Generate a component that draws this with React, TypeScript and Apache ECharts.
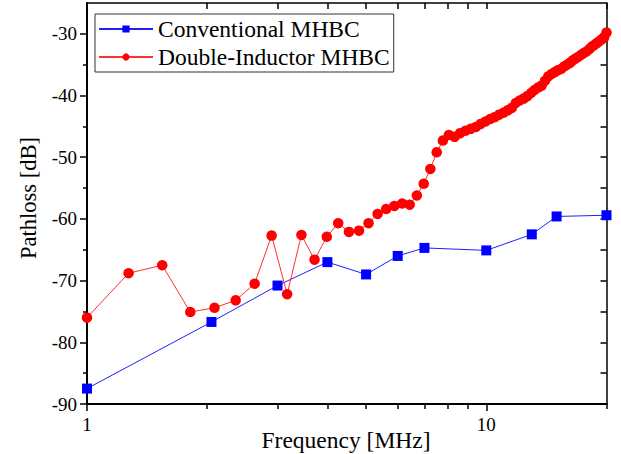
import React, { useEffect, useRef } from "react";
import * as echarts from "echarts";

const freqConv = [1, 2.05, 3, 4, 5, 6, 7, 10, 13, 15, 20];
const lossConv = [-87.5, -76.7, -70.8, -67.0, -69.0, -66.0, -64.7, -65.1, -62.5, -59.6, -59.4];

const freqDI = [
  1.0, 1.271, 1.543, 1.814, 2.086, 2.357, 2.629, 2.9, 3.171, 3.443,
  3.714, 3.986, 4.257, 4.529, 4.8, 5.071, 5.343, 5.614, 5.886, 6.157,
  6.429, 6.7, 6.971, 7.243, 7.514, 7.786, 8.057, 8.329, 8.6, 8.871,
  9.143, 9.414, 9.686, 9.957, 10.229, 10.5, 10.771, 11.043, 11.314, 11.586,
  11.857, 12.129, 12.4, 12.671, 12.943, 13.214, 13.486, 13.757, 14.029, 14.3,
  14.571, 14.843, 15.114, 15.386, 15.657, 15.929, 16.2, 16.471, 16.743, 17.014,
  17.286, 17.557, 17.829, 18.1, 18.371, 18.643, 18.914, 19.186, 19.457, 19.729,
  20.0,
];
const lossDI = [
  -76.0, -68.8, -67.5, -75.1, -74.4, -73.2, -70.5, -62.7, -72.2, -62.6,
  -66.6, -62.9, -60.7, -62.1, -61.9, -60.7, -59.2, -58.4, -57.9, -57.5,
  -57.7, -56.2, -54.3, -51.9, -49.2, -47.3, -46.4, -46.7, -46.1, -45.7,
  -45.4, -45.1, -44.6, -44.2, -43.8, -43.5, -43.1, -42.8, -42.4, -42.0,
  -41.2, -40.8, -40.5, -40.1, -39.6, -39.1, -38.7, -38.4, -37.6, -36.9,
  -36.5, -36.2, -35.9, -35.7, -35.3, -35.0, -34.7, -34.3, -34.0, -33.7,
  -33.4, -33.1, -32.85, -32.5, -32.1, -31.8, -31.5, -31.2, -30.9, -30.6,
  -29.8,
];

const yMajorTicks = [-90, -80, -70, -60, -50, -40, -30];
const yMinorTicks = [-85, -75, -65, -55, -45, -35];
const yRightTicks = [-85, -80, -75, -70, -65, -60, -55, -50, -45, -40, -35, -30];
const xMajorTicks = [1, 10];
const xMinorTicks = [2, 3, 4, 5, 6, 7, 8, 9, 20];
const xTopTicks = [2, 3, 4, 5, 6, 7, 8, 9, 10, 20];

const seriesNames = ["Conventional MHBC", "Double-Inductor MHBC"];
const xTitle = "Frequency [MHz]";
const yTitle = "Pathloss [dB]";

const FONT = "Liberation Serif";

export default function App() {
  const ref = useRef<HTMLDivElement>(null);
  useEffect(() => {
    if (!ref.current) return;
    const chart = echarts.init(ref.current, null, { renderer: "svg" });
    const gridRect = { left: 87, right: 14.5, top: 3, bottom: 50 };
    const yRange = { min: -90, max: -25 };
    const xRange = { min: 1, max: 20 };
    const noLabel = { show: false };
    const serifRich = {
      s: { color: "#000", fontFamily: FONT, fontSize: 19, fontWeight: "normal" },
    };
    chart.setOption({
      animation: false,
      backgroundColor: "#ffffff",
      textStyle: { fontFamily: FONT },
      grid: [
        { ...gridRect, show: false },
        { ...gridRect, show: false },
      ],
      xAxis: [
        {
          type: "log",
          logBase: 10,
          gridIndex: 0,
          position: "bottom",
          ...xRange,
          axisLine: { show: true, lineStyle: { color: "#000", width: 2 } },
          axisTick: { show: true, customValues: xMajorTicks, length: 7, lineStyle: { color: "#000", width: 1.5 } },
          axisLabel: {
            show: true,
            margin: 11,
            showMaxLabel: false,
            color: "#000",
            fontFamily: FONT,
            fontSize: 19,
            rich: serifRich,
            formatter: (v: number) => (xMajorTicks.indexOf(v) >= 0 ? "{s|" + v + "}" : ""),
          },
          splitLine: { show: false },
          minorTick: { show: false },
        },
        {
          type: "log",
          logBase: 10,
          gridIndex: 0,
          position: "top",
          ...xRange,
          axisLine: { show: true, lineStyle: { color: "#000", width: 1.5 } },
          axisTick: { show: true, inside: true, customValues: xTopTicks, length: 6, lineStyle: { color: "#000", width: 1.5 } },
          axisLabel: noLabel,
          splitLine: { show: false },
        },
        {
          type: "log",
          logBase: 10,
          gridIndex: 1,
          position: "bottom",
          ...xRange,
          axisLine: { show: false },
          axisTick: { show: true, customValues: xMinorTicks, length: 5, lineStyle: { color: "#000", width: 1.5 } },
          axisLabel: noLabel,
          splitLine: { show: false },
        },
      ],
      yAxis: [
        {
          type: "value",
          gridIndex: 0,
          position: "left",
          ...yRange,
          interval: 10,
          axisLine: { show: true, lineStyle: { color: "#000", width: 2 } },
          axisTick: { show: true, customValues: yMajorTicks, length: 7, lineStyle: { color: "#000", width: 1.5 } },
          axisLabel: {
            show: true,
            margin: 10,
            showMaxLabel: false,
            color: "#000",
            fontFamily: FONT,
            fontSize: 19,
            rich: serifRich,
            formatter: (v: number) => (yMajorTicks.indexOf(v) >= 0 ? "{s|" + v + "}" : ""),
          },
          splitLine: { show: false },
        },
        {
          type: "value",
          gridIndex: 0,
          position: "right",
          ...yRange,
          interval: 5,
          axisLine: { show: true, lineStyle: { color: "#000", width: 1.5 } },
          axisTick: { show: true, inside: true, customValues: yRightTicks, length: 6, lineStyle: { color: "#000", width: 1.5 } },
          axisLabel: noLabel,
          splitLine: { show: false },
        },
        {
          type: "value",
          gridIndex: 1,
          position: "left",
          ...yRange,
          interval: 5,
          axisLine: { show: false },
          axisTick: { show: true, customValues: yMinorTicks, length: 4, lineStyle: { color: "#000", width: 1.5 } },
          axisLabel: noLabel,
          splitLine: { show: false },
        },
      ],
      legend: {
        orient: "vertical",
        left: 95,
        top: 14,
        itemWidth: 54,
        itemHeight: 9,
        itemGap: 4,
        padding: [3, 4, 3, 3],
        borderColor: "#333",
        borderWidth: 1,
        borderRadius: 0,
        backgroundColor: "#fff",
        selectedMode: false,
        textStyle: { fontFamily: FONT, fontSize: 23.5, color: "#000", lineHeight: 24 },
        data: seriesNames,
      },
      series: [
        {
          name: seriesNames[0],
          type: "line",
          xAxisIndex: 0,
          yAxisIndex: 0,
          data: freqConv.map((f, i) => [f, lossConv[i]]),
          symbol: "rect",
          symbolSize: 10,
          showAllSymbol: true,
          clip: false,
          itemStyle: { color: "#0000ff" },
          lineStyle: { color: "#2020ff", width: 1 },
        },
        {
          name: seriesNames[1],
          type: "line",
          xAxisIndex: 0,
          yAxisIndex: 0,
          data: freqDI.map((f, i) => [f, lossDI[i]]),
          symbol: "circle",
          symbolSize: 10.5,
          showAllSymbol: true,
          clip: false,
          itemStyle: { color: "#ff0000" },
          lineStyle: { color: "#ff3030", width: 1 },
        },
      ],
      graphic: [
        {
          type: "text",
          x: 346,
          y: 440,
          style: {
            text: xTitle,
            fontFamily: FONT,
            fontSize: 23.5,
            fill: "#000",
            textAlign: "center",
            textVerticalAlign: "middle",
          },
        },
        {
          type: "text",
          x: 28,
          y: 198,
          rotation: Math.PI / 2,
          style: {
            text: yTitle,
            fontFamily: FONT,
            fontSize: 22.5,
            fill: "#000",
            textAlign: "center",
            textVerticalAlign: "middle",
          },
        },
      ],
    });
    return () => chart.dispose();
  }, []);
  return (
    <div
      ref={ref}
      style={{ position: "fixed", left: 0, top: 0, width: 621, height: 454, background: "#fff" }}
    />
  );
}
